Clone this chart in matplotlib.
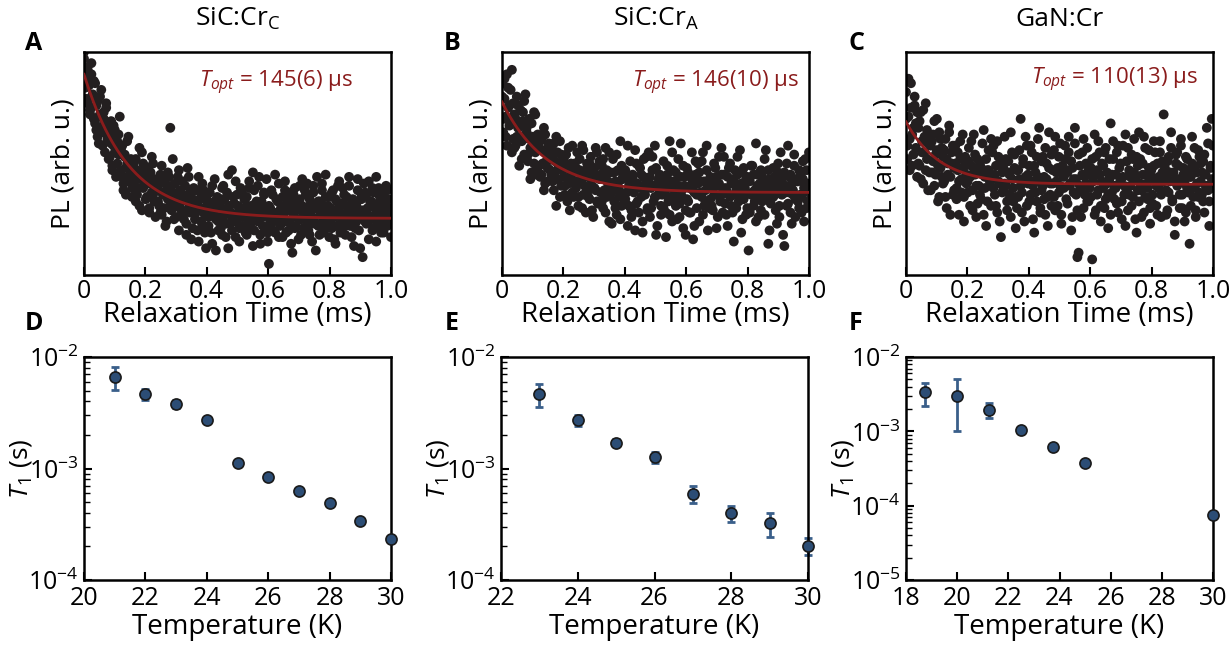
import numpy as np
import matplotlib as mpl
mpl.use('Agg')
import matplotlib.pyplot as plt
from matplotlib.ticker import LogLocator, NullFormatter

mpl.rcParams['font.family'] = 'Open Sans'
mpl.rcParams['mathtext.fontset'] = 'custom'
mpl.rcParams['mathtext.rm'] = 'Open Sans'
mpl.rcParams['mathtext.it'] = 'Open Sans:italic'
mpl.rcParams['axes.linewidth'] = 1.8
mpl.rcParams['axes.unicode_minus'] = False

RED = '#8a1c1c'
BLUE = '#2c4d75'
EBLUE = '#3a5f8a'

# ---- relaxation curves: PL in % of axis height, two scans on the 0..1 ms grid ----
pl_a = [97, 88, 79, 92, 85, 74, 90, 81, 70, 86,
        76, 62, 71, 80, 66, 58, 73, 68, 77, 61,
        52, 64, 59, 47, 67, 55, 61, 50, 63, 57,
        56, 44, 38, 53, 48, 60, 42, 51, 46, 35,
        49, 40, 52, 36, 45, 31, 43, 55, 39, 47,
        34, 44, 41, 28, 46, 37, 50, 33, 42, 38,
        40, 31, 45, 27, 36, 42, 22, 38, 34, 44,
        66, 29, 37, 31, 41, 26, 35, 47, 30, 33,
        36, 25, 40, 18, 33, 44, 28, 35, 21, 31,
        27, 38, 32, 15, 34, 24, 41, 30, 19, 36,
        33, 22, 37, 28, 14, 31, 43, 25, 35, 20,
        26, 34, 18, 40, 29, 23, 37, 12, 31, 27,
        47, 24, 32, 17, 36, 28, 21, 39, 26, 30,
        29, 19, 35, 25, 42, 22, 31, 13, 38, 27,
        33, 24, 44, 18, 30, 26, 37, 21, 28, 15,
        5, 30, 23, 36, 27, 19, 34, 25, 41, 22,
        31, 17, 28, 38, 24, 33, 20, 29, 14, 35,
        27, 39, 22, 30, 16, 34, 25, 43, 21, 28,
        36, 23, 29, 18, 32, 26, 40, 24, 11, 30,
        22, 33, 27, 41, 19, 29, 35, 24, 31, 17,
        30, 21, 38, 26, 14, 33, 28, 42, 23, 27,
        25, 36, 18, 31, 27, 40, 22, 29, 34, 13,
        32, 24, 43, 20, 28, 35, 8, 26, 37, 23,
        27, 16, 33, 25, 39, 21, 30, 44, 24, 29,
        35, 22, 28, 19, 32, 26, 38, 23, 30, 27]
pl_a2 = [100, 84, 93, 77, 89, 72, 95, 80, 87, 68,
         65, 78, 59, 72, 83, 64, 70, 55, 75, 67,
         62, 53, 69, 49, 58, 65, 44, 60, 54, 71,
         47, 58, 41, 54, 36, 50, 62, 45, 52, 39,
         42, 51, 33, 47, 39, 57, 44, 29, 50, 41,
         45, 35, 48, 30, 41, 53, 36, 43, 26, 39,
         33, 43, 28, 49, 37, 30, 41, 24, 46, 35,
         31, 40, 52, 25, 36, 33, 44, 20, 38, 29,
         42, 28, 34, 23, 48, 30, 37, 16, 33, 39,
         25, 33, 20, 44, 29, 35, 22, 38, 27, 12,
         36, 26, 31, 19, 40, 27, 33, 11, 30, 24,
         32, 21, 39, 26, 34, 17, 30, 45, 23, 28,
         20, 35, 27, 42, 24, 31, 15, 29, 37, 22,
         34, 26, 18, 31, 39, 23, 28, 46, 20, 32,
         25, 40, 29, 14, 33, 22, 36, 27, 43, 19,
         31, 24, 38, 20, 28, 45, 26, 33, 17, 29,
         23, 35, 27, 42, 19, 30, 37, 24, 32, 10,
         36, 21, 29, 33, 25, 40, 18, 31, 27, 38,
         26, 41, 20, 34, 28, 15, 37, 23, 30, 44,
         33, 18, 28, 38, 24, 31, 45, 21, 27, 35,
         24, 37, 29, 16, 34, 22, 40, 30, 19, 32,
         39, 27, 22, 35, 30, 44, 25, 17, 33, 28,
         21, 31, 38, 26, 12, 34, 29, 41, 24, 36,
         30, 42, 25, 33, 20, 37, 27, 15, 32, 39,
         28, 19, 36, 31, 24, 40, 22, 34, 29, 17]

pl_b = [86, 70, 79, 62, 90, 75, 67, 83, 55, 77,
        72, 58, 80, 66, 61, 74, 52, 69, 78, 63,
        64, 51, 70, 57, 46, 62, 73, 55, 60, 48,
        57, 44, 61, 50, 66, 41, 55, 48, 59, 52,
        45, 56, 38, 51, 62, 43, 49, 35, 54, 47,
        52, 40, 48, 33, 57, 44, 50, 37, 46, 42,
        39, 55, 31, 47, 42, 58, 36, 44, 28, 50,
        46, 34, 53, 40, 26, 48, 38, 55, 32, 43,
        37, 49, 30, 44, 57, 35, 41, 24, 46, 39,
        52, 33, 42, 27, 47, 38, 60, 31, 44, 36,
        34, 45, 22, 40, 51, 29, 43, 37, 56, 32,
        41, 28, 48, 35, 19, 44, 38, 53, 30, 42,
        26, 39, 47, 33, 58, 18, 40, 36, 45, 31,
        43, 30, 38, 17, 49, 35, 27, 42, 55, 34,
        36, 46, 25, 40, 32, 59, 38, 21, 44, 29,
        48, 33, 39, 28, 43, 16, 37, 51, 30, 41,
        24, 42, 35, 55, 31, 38, 47, 20, 40, 34,
        39, 29, 50, 36, 44, 26, 41, 33, 57, 37,
        45, 32, 38, 22, 48, 35, 41, 28, 43, 36,
        30, 53, 37, 40, 19, 46, 34, 39, 27, 44,
        11, 42, 36, 49, 31, 38, 24, 45, 35, 41,
        47, 33, 40, 27, 56, 37, 14, 43, 32, 38,
        35, 44, 29, 39, 50, 26, 41, 36, 18, 46,
        40, 31, 58, 37, 45, 23, 38, 49, 34, 42,
        33, 47, 36, 28, 43, 39, 52, 30, 41, 37]
pl_b2 = [80, 64, 88, 71, 58, 84, 76, 68, 92, 61,
         57, 70, 62, 76, 49, 67, 60, 73, 54, 81,
         66, 54, 61, 43, 68, 58, 50, 72, 45, 63,
         49, 60, 45, 56, 38, 63, 51, 42, 58, 47,
         53, 42, 59, 46, 31, 55, 48, 60, 40, 51,
         44, 36, 54, 49, 41, 29, 47, 58, 35, 50,
         48, 41, 35, 52, 45, 30, 56, 40, 47, 37,
         35, 50, 43, 29, 46, 39, 57, 33, 44, 51,
         45, 33, 52, 38, 28, 47, 42, 55, 36, 23,
         38, 46, 30, 54, 41, 35, 25, 49, 43, 32,
         47, 37, 58, 31, 42, 26, 45, 39, 20, 50,
         33, 49, 39, 45, 24, 52, 36, 41, 29, 55,
         44, 30, 53, 40, 35, 48, 22, 43, 38, 27,
         36, 51, 41, 28, 45, 33, 60, 39, 24, 47,
         42, 31, 37, 52, 26, 44, 35, 49, 40, 18,
         34, 46, 28, 40, 55, 38, 22, 45, 36, 50,
         46, 37, 51, 27, 42, 33, 58, 39, 30, 44,
         31, 43, 36, 48, 21, 40, 53, 35, 45, 28,
         53, 39, 27, 44, 36, 50, 31, 42, 15, 47,
         38, 45, 33, 56, 41, 25, 48, 36, 43, 30,
         43, 28, 49, 37, 45, 33, 59, 40, 26, 46,
         29, 44, 38, 52, 34, 41, 47, 20, 39, 35,
         48, 36, 42, 23, 46, 31, 55, 38, 44, 13,
         37, 50, 32, 44, 28, 41, 36, 54, 26, 43,
         42, 30, 45, 35, 51, 24, 40, 47, 33, 55]

pl_c = [82, 58, 71, 47, 86, 63, 54, 76, 68, 44,
        66, 49, 73, 55, 41, 62, 77, 52, 59, 46,
        38, 60, 51, 69, 45, 56, 33, 64, 48, 57,
        53, 42, 61, 30, 50, 67, 44, 55, 36, 48,
        58, 39, 47, 27, 52, 43, 63, 35, 49, 41,
        37, 51, 44, 60, 29, 46, 54, 40, 32, 48,
        50, 34, 45, 65, 39, 22, 47, 56, 42, 31,
        44, 58, 36, 49, 28, 53, 41, 17, 46, 38,
        62, 40, 33, 51, 45, 26, 55, 39, 48, 35,
        30, 47, 43, 70, 37, 52, 24, 44, 58, 41,
        49, 36, 55, 40, 19, 46, 33, 61, 42, 28,
        38, 53, 44, 27, 50, 35, 64, 41, 31, 47,
        56, 29, 42, 48, 37, 59, 23, 45, 39, 52,
        34, 46, 62, 40, 51, 26, 43, 66, 36, 8,
        10, 49, 38, 55, 30, 44, 41, 57, 33, 47,
        48, 7, 42, 27, 53, 36, 60, 45, 31, 50,
        39, 55, 34, 46, 21, 43, 68, 37, 52, 40,
        45, 32, 58, 41, 50, 25, 44, 36, 63, 38,
        29, 47, 40, 54, 35, 61, 43, 19, 49, 33,
        52, 38, 45, 28, 57, 41, 34, 48, 23, 44,
        36, 60, 42, 31, 50, 39, 55, 26, 46, 72,
        43, 27, 51, 37, 46, 64, 33, 42, 18, 54,
        40, 49, 30, 58, 36, 45, 24, 53, 39, 47,
        14, 44, 62, 35, 48, 29, 41, 56, 37, 50,
        46, 33, 54, 40, 66, 38, 22, 49, 43, 58]
pl_c2 = [70, 52, 88, 61, 75, 49, 66, 80, 57, 73,
         50, 69, 43, 60, 74, 55, 47, 65, 38, 62,
         58, 46, 63, 40, 54, 70, 49, 35, 61, 44,
         41, 56, 35, 52, 45, 64, 27, 50, 58, 38,
         50, 34, 55, 42, 60, 37, 48, 24, 53, 45,
         42, 57, 31, 49, 38, 63, 45, 26, 52, 40,
         36, 48, 59, 27, 44, 52, 33, 47, 40, 61,
         55, 39, 45, 31, 60, 42, 24, 50, 37, 48,
         41, 52, 29, 46, 36, 64, 43, 33, 54, 21,
         47, 35, 56, 40, 28, 50, 43, 62, 31, 45,
         33, 58, 42, 25, 49, 37, 53, 44, 66, 30,
         51, 40, 34, 57, 43, 22, 48, 36, 54, 41,
         35, 62, 46, 31, 53, 40, 27, 49, 44, 58,
         47, 32, 55, 41, 20, 48, 37, 59, 43, 29,
         54, 40, 26, 45, 61, 36, 50, 33, 47, 39,
         35, 52, 44, 63, 29, 47, 38, 55, 24, 42,
         49, 30, 57, 41, 36, 52, 27, 45, 60, 34,
         39, 55, 28, 48, 43, 33, 58, 40, 22, 51,
         57, 36, 44, 31, 52, 46, 25, 53, 38, 64,
         41, 26, 50, 62, 35, 45, 39, 56, 30, 47,
         32, 49, 55, 40, 27, 44, 60, 36, 51, 42,
         48, 38, 29, 53, 42, 57, 34, 46, 24, 50,
         55, 43, 36, 61, 30, 48, 41, 28, 52, 37,
         44, 31, 50, 39, 57, 26, 46, 35, 53, 42,
         36, 51, 28, 45, 40, 59, 33, 48, 70, 39]

# fit parameters: offset, amplitude, T_opt (ms)
fit_a = (25.4, 64.6, 0.145)
fit_b = (37.0, 40.6, 0.146)
fit_c = (40.7, 28.0, 0.110)

# ---- T1 vs temperature ----
temp_d = [21, 22, 23, 24, 25, 26, 27, 28, 29, 30]
t1_d = [6.56e-3, 4.66e-3, 3.78e-3, 2.70e-3, 1.12e-3, 8.4e-4, 6.3e-4, 4.9e-4, 3.41e-4, 2.33e-4]
t1_d_lo = [5.09e-3, 4.1e-3, 3.5e-3, 2.6e-3, 1.08e-3, 8.2e-4, 6.2e-4, 4.8e-4, 3.35e-4, 2.29e-4]
t1_d_hi = [8.07e-3, 5.2e-3, 4.1e-3, 2.8e-3, 1.16e-3, 8.6e-4, 6.4e-4, 5.0e-4, 3.47e-4, 2.37e-4]

temp_e = [23, 24, 25, 26, 27, 28, 29, 30]
t1_e = [4.66e-3, 2.70e-3, 1.70e-3, 1.26e-3, 5.91e-4, 3.97e-4, 3.23e-4, 2.03e-4]
t1_e_lo = [3.56e-3, 2.39e-3, 1.58e-3, 1.12e-3, 4.89e-4, 3.34e-4, 2.45e-4, 1.66e-4]
t1_e_hi = [5.75e-3, 3.03e-3, 1.84e-3, 1.40e-3, 6.98e-4, 4.65e-4, 4.03e-4, 2.37e-4]

temp_f = [18.75, 20, 21.25, 22.5, 23.75, 25, 30]
t1_f = [3.34e-3, 3.01e-3, 1.95e-3, 1.05e-3, 6.07e-4, 3.73e-4, 7.45e-5]
t1_f_lo = [2.21e-3, 1.0e-3, 1.49e-3, 1.0e-3, 5.9e-4, 3.65e-4, 7.3e-5]
t1_f_hi = [4.47e-3, 5.06e-3, 2.40e-3, 1.10e-3, 6.25e-4, 3.8e-4, 7.6e-5]

titles = ['SiC:Cr$_{\\mathrm{C}}$', 'SiC:Cr$_{\\mathrm{A}}$', 'GaN:Cr']
topt_labels = ['145(6)', '146(10)', '110(13)']
topt_pos = [(0.875, 0.86), (0.967, 0.86), (0.95, 0.875)]

fig = plt.figure(figsize=(12.29, 6.46), dpi=100)
W, H = 1229.0, 646.0
lefts = [84, 502, 906]
wid = 307

def style_ticks(ax):
    ax.tick_params(direction='in', which='both', top=False, right=False,
                   labelsize=15, pad=4)
    ax.tick_params(which='major', length=6, width=1.5)
    ax.tick_params(which='minor', length=4, width=1.0)

# top row
top_data = [(pl_a, pl_a2), (pl_b, pl_b2), (pl_c, pl_c2)]
fits = [fit_a, fit_b, fit_c]
for i in range(3):
    ax = fig.add_axes([lefts[i] / W, 1 - 275 / H, wid / W, 223 / H])
    for scan in top_data[i]:
        y = np.array(scan)
        t = np.linspace(0, 1, len(y))
        ax.scatter(t, y, s=50, color='#231f20', edgecolors='none', zorder=2)
    off, amp, tau = fits[i]
    tt = np.linspace(0, 1, 300)
    ax.plot(tt, off + amp * np.exp(-tt / tau), color=RED, lw=2, zorder=3)
    ax.set_xlim(0, 1)
    ax.set_ylim(0, 100)
    ax.set_yticks([])
    ax.set_xticks([0, 0.2, 0.4, 0.6, 0.8, 1.0])
    ax.set_xticklabels(['0', '0.2', '0.4', '0.6', '0.8', '1.0'])
    style_ticks(ax)
    ax.tick_params(axis='x', labelsize=18, pad=3)
    ax.set_xlabel('Relaxation Time (ms)', fontsize=20, labelpad=-2)
    ax.set_ylabel('PL (arb. u.)', fontsize=19, labelpad=6)
    ax.set_title(titles[i], fontsize=19, pad=19)
    px, py = topt_pos[i]
    ax.text(px, py, '$T_{opt}$ = ' + topt_labels[i] + ' μs', color=RED,
            fontsize=16, ha='right', va='center', transform=ax.transAxes)
    fig.text((lefts[i] - 50) / W, 1 - 43 / H, 'ABC'[i], fontsize=18,
             fontweight='bold', ha='center', va='center')

# bottom row
bot = [(temp_d, t1_d, t1_d_lo, t1_d_hi, (20, 30), (1e-4, 1e-2), 84),
       (temp_e, t1_e, t1_e_lo, t1_e_hi, (22, 30), (1e-4, 1e-2), 501),
       (temp_f, t1_f, t1_f_lo, t1_f_hi, (18, 30), (1e-5, 1e-2), 906)]
for i, (tx, ty, lo, hi, xl, yl, left) in enumerate(bot):
    ax = fig.add_axes([left / W, 1 - 580 / H, wid / W, 223 / H])
    ty = np.array(ty)
    yerr = [ty - np.array(lo), np.array(hi) - ty]
    ax.errorbar(tx, ty, yerr=yerr, fmt='none', ecolor=EBLUE, elinewidth=2,
                capsize=3, capthick=2, zorder=2, clip_on=False)
    ax.plot(tx, ty, 'o', ms=8, mfc=BLUE, mec='#1a1a1a', mew=1.2, zorder=3,
            clip_on=False)
    ax.set_yscale('log')
    ax.set_xlim(*xl)
    ax.set_ylim(*yl)
    ax.set_xticks(np.arange(xl[0], xl[1] + 1, 2))
    ax.yaxis.set_major_locator(LogLocator(base=10, numticks=10))
    ax.yaxis.set_minor_locator(LogLocator(base=10, subs=np.arange(2, 10), numticks=20))
    ax.yaxis.set_minor_formatter(NullFormatter())
    style_ticks(ax)
    ax.tick_params(axis='both', which='major', labelsize=18)
    ax.set_xlabel('Temperature (K)', fontsize=20, labelpad=2)
    ax.set_ylabel('$T_{\\mathit{1}}$ (s)', fontsize=19, labelpad=-4)
    fig.text((lefts[i] - 50) / W, 1 - 323 / H, 'DEF'[i], fontsize=18,
             fontweight='bold', ha='center', va='center')

fig.savefig('out.png', dpi=100)
